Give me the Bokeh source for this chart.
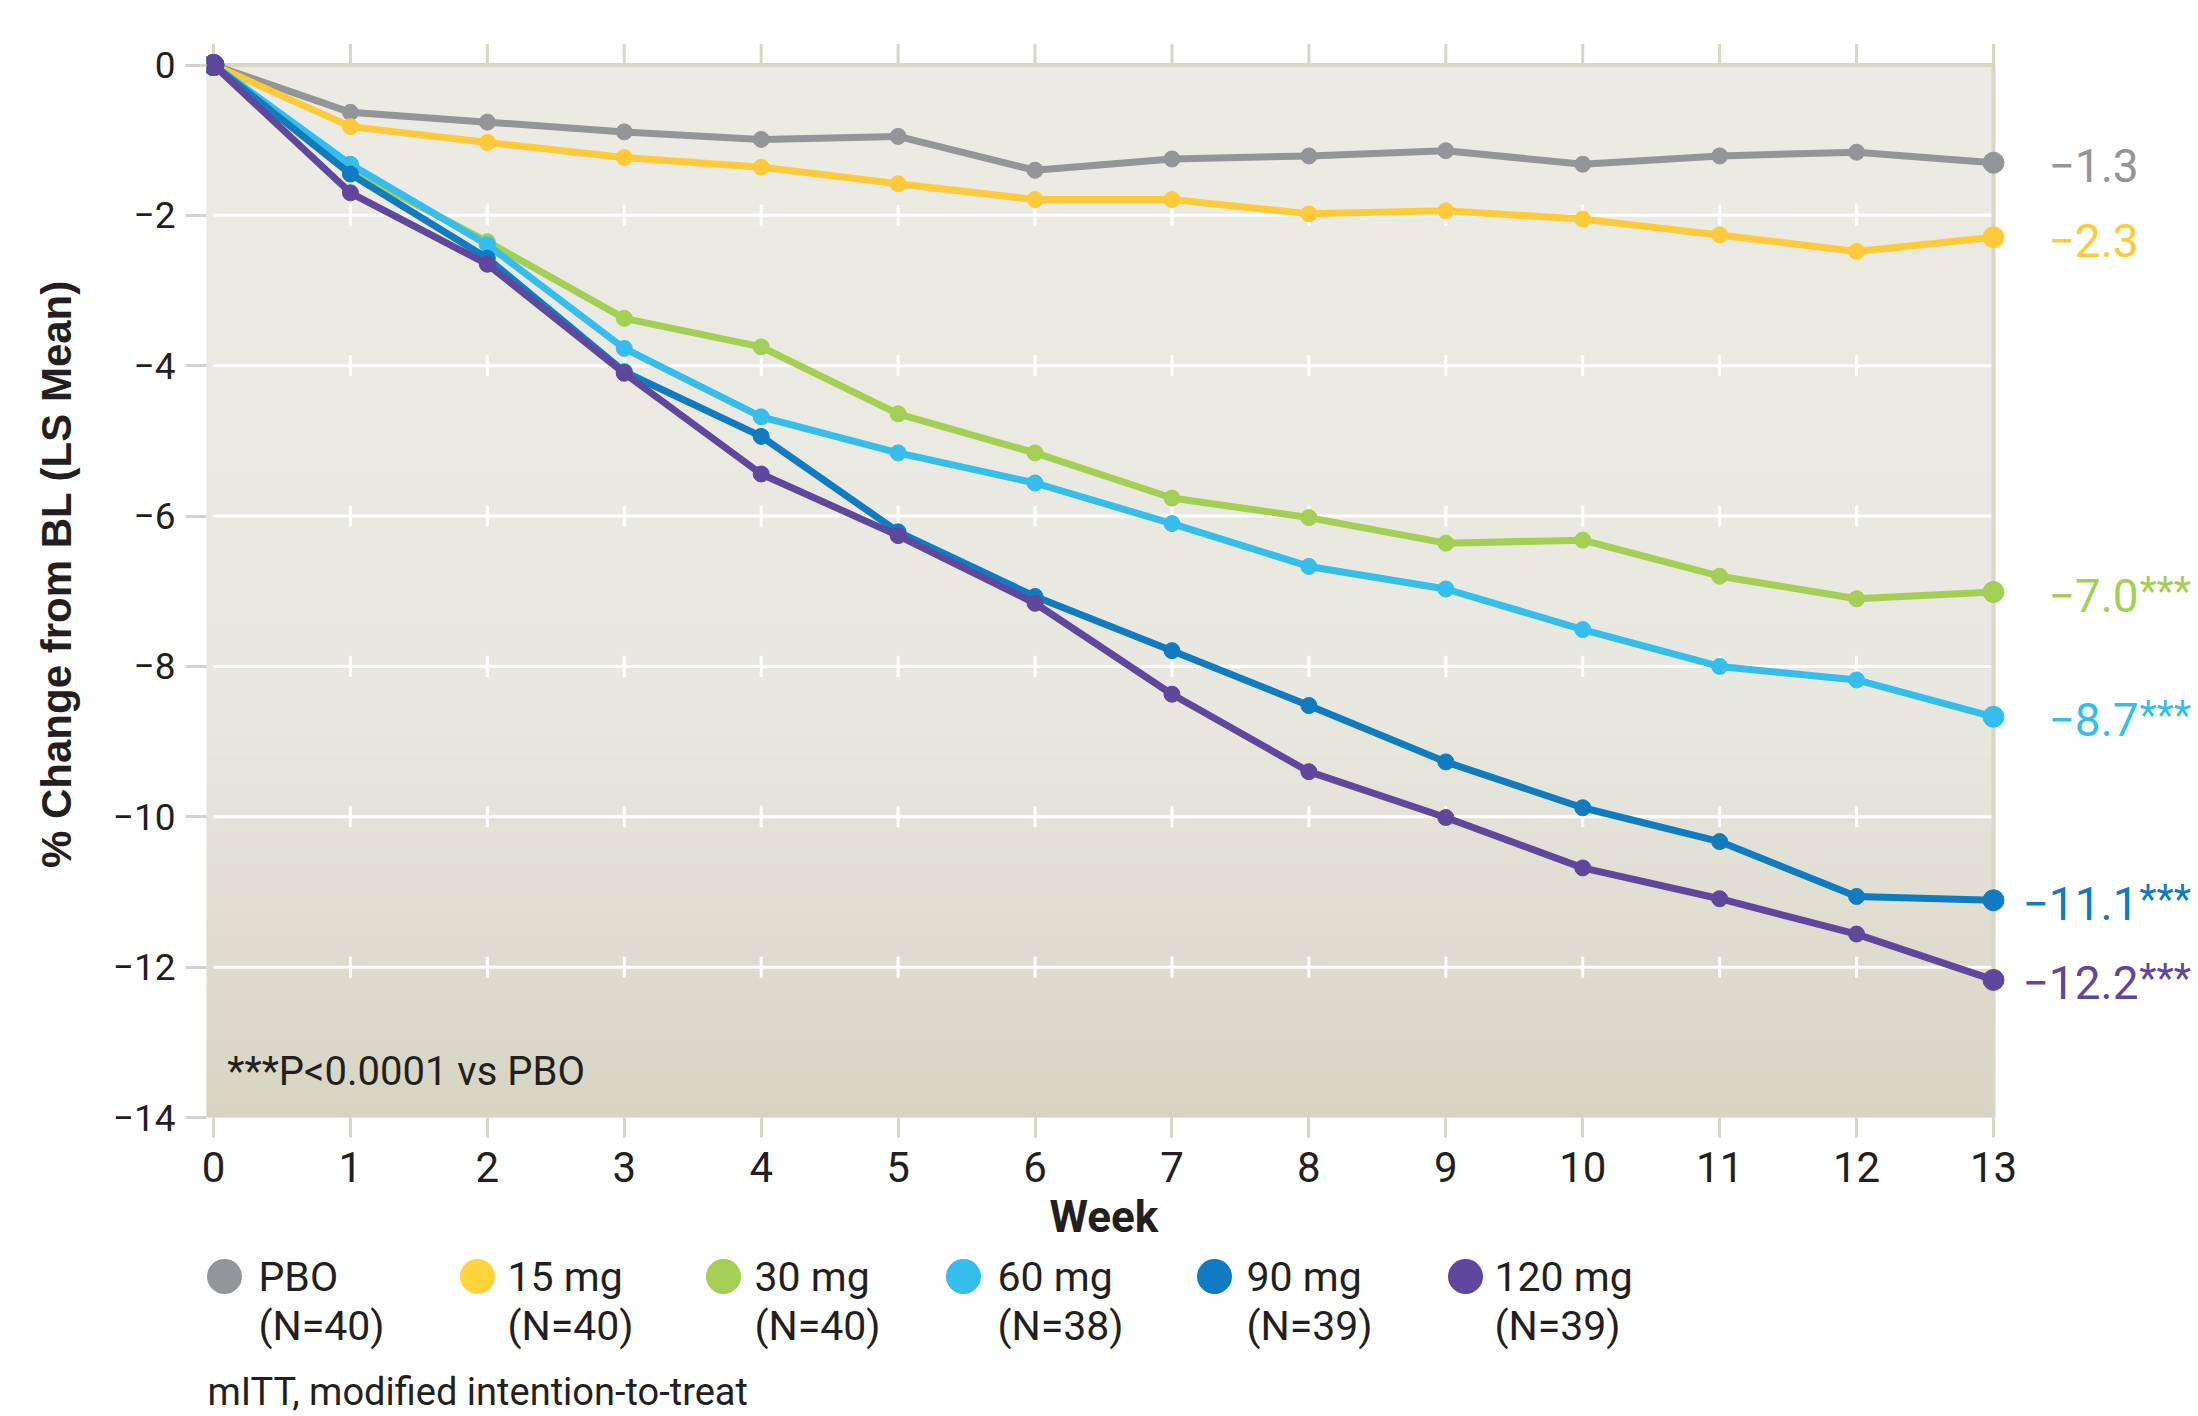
import numpy as np
from bokeh.plotting import figure
from bokeh.models import Range1d, LinearAxis, FixedTicker, Label, Title
from bokeh.layouts import column
from bokeh.embed import file_html
from bokeh.resources import INLINE
from bokeh.core.properties import value

# ---------------- data ----------------
weeks = list(range(14))
series_names = ["PBO", "15 mg", "30 mg", "60 mg", "90 mg", "120 mg"]
series_n = ["(N=40)", "(N=40)", "(N=40)", "(N=38)", "(N=39)", "(N=39)"]
pbo = [0, -0.63, -0.76, -0.89, -0.99, -0.95, -1.40, -1.25, -1.21, -1.14, -1.32, -1.21, -1.16, -1.30]
mg15 = [0, -0.82, -1.03, -1.23, -1.36, -1.58, -1.79, -1.79, -1.98, -1.94, -2.05, -2.26, -2.48, -2.29]
mg30 = [0, -1.40, -2.35, -3.37, -3.75, -4.64, -5.16, -5.76, -6.02, -6.36, -6.32, -6.80, -7.10, -7.01]
mg60 = [0, -1.32, -2.39, -3.77, -4.68, -5.16, -5.56, -6.10, -6.67, -6.97, -7.51, -8.00, -8.18, -8.67]
mg90 = [0, -1.45, -2.57, -4.08, -4.94, -6.21, -7.07, -7.79, -8.52, -9.27, -9.88, -10.33, -11.06, -11.11]
mg120 = [0, -1.70, -2.65, -4.10, -5.44, -6.26, -7.16, -8.37, -9.40, -10.01, -10.68, -11.09, -11.56, -12.17]
end_labels = ["\u22121.3", "\u22122.3", "\u22127.0", "\u22128.7", "\u221211.1", "\u221212.2"]
end_sig = ["", "", "***", "***", "***", "***"]
y_ticks = [0, -2, -4, -6, -8, -10, -12, -14]
y_tick_labels = ["0", "\u22122", "\u22124", "\u22126", "\u22128", "\u221210", "\u221212", "\u221214"]
x_ticks = list(range(14))
footnote_p = "***P<0.0001 vs PBO"
footnote_mitt = "mITT, modified intention-to-treat"

all_series = [pbo, mg15, mg30, mg60, mg90, mg120]
colors = ["#939598", "#ffca3a", "#a3cf55", "#35bdec", "#107bc1", "#5e479d"]
legend_colors = ["#939598", "#ffd43b", "#a3cf55", "#35bdec", "#107bc1", "#5e479d"]
label_offsets = [55, 55, 55, 55, 29, 29]

TAN = "#d8d6c4"
TXT = "#231f20"
FONT = "Roboto"

W = 2198
H_MAIN = 1252
H_LEG = 1416 - H_MAIN

# plot-area geometry (pixels)
FRAME_LEFT = 206
X0_PX, X13_PX = 213, 1993
Y0_PX, Y14_PX = 64.5, 1117
FRAME_TOP = 30
px_per_wk = (X13_PX - X0_PX) / 13.0
px_per_unit = (Y14_PX - Y0_PX) / 14.0
x_start = -(X0_PX - FRAME_LEFT) / px_per_wk
x_end = 13 + (W - X13_PX) / px_per_wk
y_end = (Y0_PX - FRAME_TOP) / px_per_unit
tick_len = 21 / px_per_unit

p = figure(width=W, height=H_MAIN, x_range=Range1d(x_start, x_end), y_range=Range1d(-14, y_end),
           output_backend="svg", toolbar_location=None,
           min_border_left=FRAME_LEFT, min_border_right=0, min_border_top=FRAME_TOP,
           min_border_bottom=H_MAIN - int(round(Y14_PX)),
           x_axis_location=None, y_axis_location=None)
p.xgrid.visible = False
p.ygrid.visible = False
p.outline_line_color = None
p.background_fill_color = "white"
p.border_fill_color = "white"

# background gradient (style only)
n_strips = 70
edges = np.linspace(0, -14, n_strips + 1)
top_rgb = np.array([235, 235, 228])
mid_rgb = np.array([233, 232, 224])
bot_rgb = np.array([215, 212, 195])
cols = []
for i in range(n_strips):
    yc = (edges[i] + edges[i + 1]) / 2
    if yc > -8.5:
        t = (-yc) / 8.5
        c = top_rgb + (mid_rgb - top_rgb) * t
    else:
        t = (-yc - 8.5) / 5.5
        c = mid_rgb + (bot_rgb - mid_rgb) * t
    cols.append("#%02x%02x%02x" % tuple(int(round(v)) for v in c))
p.quad(left=x_start, right=13, top=edges[:-1], bottom=edges[1:], fill_color=cols, line_color=cols, line_width=1)

# white gridlines with crosses
grid_y = [t for t in y_ticks if t not in (0, -14)]
p.segment(x0=0, x1=13, y0=grid_y, y1=grid_y, line_color="white", line_width=3)
cx, cy = [], []
for yv in grid_y:
    for xv in x_ticks[1:-1]:
        cx.append(xv)
        cy.append(yv)
p.scatter(x=cx, y=cy, marker="dash", angle=np.pi / 2, size=21, line_color="white", line_width=3)

# top border, right border, top ticks
p.segment(x0=[x_start], x1=[13], y0=[0], y1=[0], line_color=TAN, line_width=4)
p.segment(x0=[13], x1=[13], y0=[-14], y1=[0], line_color=TAN, line_width=4)
p.segment(x0=x_ticks, x1=x_ticks, y0=[0] * len(x_ticks), y1=[tick_len] * len(x_ticks),
          line_color=TAN, line_width=3)

# axes
left = LinearAxis(ticker=FixedTicker(ticks=y_ticks),
                  major_label_overrides={t: l for t, l in zip(y_ticks, y_tick_labels)})
left.axis_line_color = None
left.major_tick_line_color = "#d1d3d4"
left.major_tick_line_width = 3
left.major_tick_out = 21
left.major_tick_in = 0
left.minor_tick_line_color = None
left.major_label_standoff = 10
left.major_label_text_font = FONT
left.major_label_text_font_size = "37px"
left.major_label_text_color = TXT
left.axis_label = "% Change from BL (LS Mean)"
left.axis_label_text_font = "Liberation Sans"
left.axis_label_text_font_style = "bold"
left.axis_label_text_font_size = "42px"
left.axis_label_text_color = TXT
left.axis_label_standoff = 30
p.add_layout(left, "left")

bottom = LinearAxis(ticker=FixedTicker(ticks=x_ticks))
bottom.axis_line_color = None
bottom.major_tick_line_color = TAN
bottom.major_tick_line_width = 3
bottom.major_tick_out = 20
bottom.major_tick_in = 0
bottom.minor_tick_line_color = None
bottom.major_label_standoff = 14
bottom.major_label_text_font = FONT
bottom.major_label_text_font_size = "42px"
bottom.major_label_text_color = TXT
p.add_layout(bottom, "below")

# "Week" axis title, centred under weeks 0-13 (frame extends further right)
WEEK_FONT_PX = 44
week_width = 2.454 * WEEK_FONT_PX
week_center_px = (X0_PX + X13_PX) / 2
p.add_layout(Title(text="Week", align="left", offset=week_center_px - week_width / 2 - FRAME_LEFT,
                   text_font=FONT, text_font_style="bold", text_font_size="%dpx" % WEEK_FONT_PX,
                   text_color=TXT, standoff=13, vertical_align="top"), "below")

# series
for ys, c in zip(all_series, colors):
    p.line(x=weeks, y=ys, line_color=c, line_width=7)
    p.scatter(x=weeks[1:-1], y=ys[1:-1], size=16, fill_color=c, line_color=c)
    p.scatter(x=[weeks[0], weeks[-1]], y=[ys[0], ys[-1]], size=21, fill_color=c, line_color=c)

# end labels (number + superscript-like significance stars)
NUM_PX, SIG_PX = 46, 40
char_w = {"\u2212": 0.568, ".": 0.263}
def text_width(s, px):
    return sum(char_w.get(ch, 0.5615) for ch in s) * px
for ys, c, lab, sig, off in zip(all_series, colors, end_labels, end_sig, label_offsets):
    base_off = -3
    p.add_layout(Label(x=weeks[-1], y=ys[-1], x_offset=off, y_offset=base_off, text=lab, text_color=c,
                       text_font=FONT, text_font_size="%dpx" % NUM_PX, text_baseline="alphabetic",
                       text_align="left"))
    if sig:
        p.add_layout(Label(x=weeks[-1], y=ys[-1], x_offset=off + text_width(lab, NUM_PX) + 1,
                           y_offset=base_off + 4, text=sig, text_color=c,
                           text_font=FONT, text_font_size="%dpx" % SIG_PX, text_baseline="alphabetic",
                           text_align="left"))

p.add_layout(Label(x=0.10, y=-13.39, text=footnote_p, text_color=TXT, text_font=FONT,
                   text_font_size="40px", text_baseline="middle", text_align="left"))

# ---------------- legend panel (coordinates = page pixels) ----------------
leg = figure(width=W, height=H_LEG, x_range=Range1d(FRAME_LEFT, W), y_range=Range1d(1416, H_MAIN),
             output_backend="svg", toolbar_location=None,
             min_border_left=FRAME_LEFT, min_border_right=0, min_border_top=0, min_border_bottom=0,
             x_axis_location=None, y_axis_location=None)
leg.xgrid.visible = False
leg.ygrid.visible = False
leg.outline_line_color = None
leg.background_fill_color = "white"
leg.border_fill_color = "white"

leg_circle_x = [224, 477, 723, 963, 1214, 1465]
leg_text_x = [258, 507, 754, 997, 1246, 1494]
leg_row1_y, leg_row2_y, mitt_y = 1276, 1325, 1391
leg.scatter(x=leg_circle_x, y=[leg_row1_y] * 6, size=35, fill_color=legend_colors, line_color=None)
leg.text(x=leg_text_x, y=[leg_row1_y] * 6, text=series_names, text_font=value(FONT), text_font_size="41px",
         text_color=TXT, text_baseline="middle", text_align="left")
leg.text(x=leg_text_x, y=[leg_row2_y] * 6, text=series_n, text_font=value(FONT), text_font_size="41px",
         text_color=TXT, text_baseline="middle", text_align="left")
leg.text(x=[207], y=[mitt_y], text=[footnote_mitt], text_font=value(FONT), text_font_size="38px",
         text_color=TXT, text_baseline="middle", text_align="left")

layout = column(p, leg, spacing=0)
open("out.html", "w").write(file_html(layout, INLINE))
